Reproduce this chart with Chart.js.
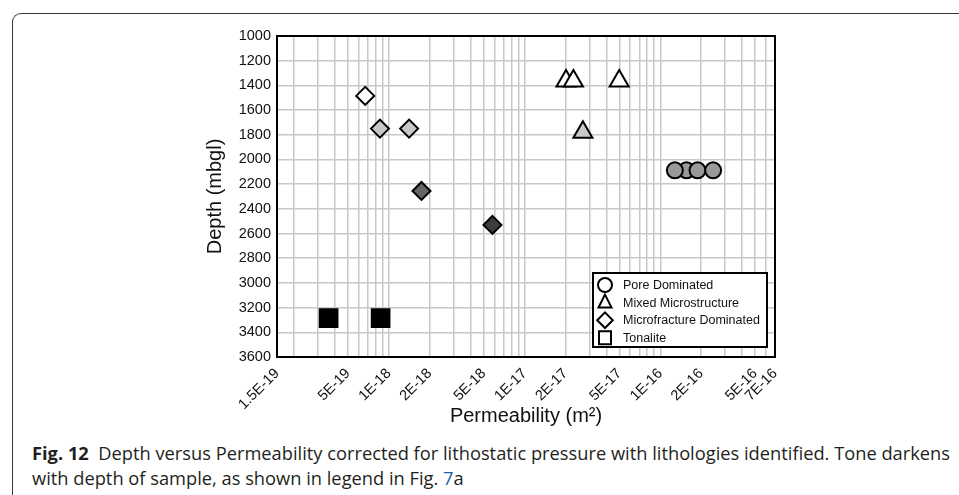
<!DOCTYPE html>
<html lang="en">
  <head>
    <meta charset="UTF-8" />
    <title>Depth versus Permeability</title>
    <script src="https://cdn.jsdelivr.net/npm/chart.js"></script>
    <style>
      body {
        margin: 0;
        padding: 0;
        background: #fff;
        width: 959px;
        height: 495px;
        overflow: hidden;
        position: relative;
      }

      .frame {
        position: absolute;
        left: 12px;
        top: 13px;
        width: 970px;
        height: 500px;
        border-left: 1.5px solid #3a3a3a;
        border-top: 1.5px solid #3a3a3a;
        border-top-left-radius: 9px;
      }

      .chart-box {
        position: absolute;
        left: 0;
        top: 0;
        width: 959px;
        height: 440px;
      }

      .caption {
        position: absolute;
        left: 32px;
        top: 441px;
        font-family: "Open Sans", sans-serif;
        font-size: 17.5px;
        line-height: 25px;
        color: #231f20;
        white-space: nowrap;
        transform-origin: 0 0;
      }

      .caption .ref {
        color: #1a5fb4;
      }
    </style>
  </head>
  <body>
    <div class="frame"></div>
    <div class="chart-box">
      <canvas id="perm-chart"></canvas>
    </div>
    <div class="caption" id="caption">
      <span id="caption-line1"><b>Fig. 12</b>&nbsp; Depth versus Permeability corrected for lithostatic pressure with lithologies identified. Tone darkens</span><br />
      with depth of sample, as shown in legend in Fig. <span class="ref">7</span>a
    </div>

    <script>
      // permeability (m2) and depth (mbgl)
      const poreK = [1.56e-16, 1.28e-16, 1.88e-16, 2.45e-16];
      const poreDepth = [2088, 2088, 2088, 2088];
      const poreFill = ["#999999", "#999999", "#999999", "#999999"];

      const mixedK = [2.02e-17, 2.29e-17, 4.98e-17, 2.69e-17];
      const mixedDepth = [1365, 1365, 1365, 1780];
      const mixedFill = ["#ffffff", "#ffffff", "#ffffff", "#c8c8c8"];

      const fractureK = [6.7e-19, 8.6e-19, 1.41e-18, 1.74e-18, 5.8e-18];
      const fractureDepth = [1485, 1750, 1750, 2255, 2530];
      const fractureFill = ["#ffffff", "#c8c8c8", "#c8c8c8", "#666666", "#3c3c3c"];

      const tonaliteK = [3.6e-19, 8.7e-19];
      const tonaliteDepth = [3285, 3285];

      const legendLabels = [
        "Pore Dominated",
        "Mixed Microstructure",
        "Microfracture Dominated",
        "Tonalite",
      ];

      const xTickLabels = [
        "1.5E-19", "5E-19", "1E-18", "2E-18", "5E-18", "1E-17",
        "2E-17", "5E-17", "1E-16", "2E-16", "5E-16", "7E-16",
      ];

      const xMin = 1.5e-19;
      const xMax = 7e-16;

      // minor grid at every 1..9 of each decade
      const gridValues = [xMin];
      for (let e = -19; e <= -16; e++) {
        for (let m = 1; m <= 9; m++) {
          const v = Number(m + "e" + e);
          if (v > xMin && v <= xMax) gridValues.push(v);
        }
      }

      function toPoints(xs, ys) {
        return xs.map((x, i) => ({ x: x, y: ys[i] }));
      }

      function drawMarker(ctx, style, x, y) {
        ctx.beginPath();
        if (style === "circle") {
          ctx.arc(x, y, 7, 0, Math.PI * 2);
        } else if (style === "triangle") {
          ctx.moveTo(x, y - 8);
          ctx.lineTo(x + 6.5, y + 5);
          ctx.lineTo(x - 6.5, y + 5);
          ctx.closePath();
        } else if (style === "rectRot") {
          ctx.moveTo(x, y - 7.8);
          ctx.lineTo(x + 7.8, y);
          ctx.lineTo(x, y + 7.8);
          ctx.lineTo(x - 7.8, y);
          ctx.closePath();
        } else {
          ctx.rect(x - 6, y - 6.5, 12, 13);
        }
        ctx.fill();
        ctx.stroke();
      }

      const legendStyles = ["circle", "triangle", "rectRot", "rect"];

      const boxAndLegend = {
        id: "boxAndLegend",
        afterDraw(chart) {
          const { ctx, chartArea: a } = chart;
          ctx.save();
          ctx.strokeStyle = "#000";
          ctx.lineWidth = 2;
          ctx.strokeRect(a.left, a.top, a.right - a.left, a.bottom - a.top);

          const w = 174;
          const h = 74;
          const x0 = a.right - 8 - w;
          const y0 = a.bottom - 10 - h;
          ctx.fillStyle = "#fff";
          ctx.fillRect(x0, y0, w, h);
          ctx.strokeRect(x0, y0, w, h);

          ctx.font = "12.5px 'Liberation Sans', Arial, sans-serif";
          ctx.textBaseline = "middle";
          legendLabels.forEach((label, i) => {
            const y = y0 + 12 + i * 17.6;
            ctx.fillStyle = "#fff";
            ctx.strokeStyle = "#000";
            ctx.lineWidth = 2;
            drawMarker(ctx, legendStyles[i], x0 + 12, y);
            ctx.fillStyle = "#111";
            ctx.fillText(label, x0 + 30, y + 0.5);
          });
          ctx.restore();
        },
      };

      Chart.defaults.font.family = "'Liberation Sans', Arial, sans-serif";
      Chart.defaults.color = "#111";

      new Chart(document.getElementById("perm-chart"), {
        type: "scatter",
        data: {
          datasets: [
            {
              label: legendLabels[0],
              data: toPoints(poreK, poreDepth),
              pointStyle: "circle",
              pointRadius: 8,
              pointBackgroundColor: poreFill,
            },
            {
              label: legendLabels[1],
              data: toPoints(mixedK, mixedDepth),
              pointStyle: "triangle",
              pointRadius: 11,
              pointBackgroundColor: mixedFill,
            },
            {
              label: legendLabels[2],
              data: toPoints(fractureK, fractureDepth),
              pointStyle: "rectRot",
              pointRadius: 9,
              pointBackgroundColor: fractureFill,
            },
            {
              label: legendLabels[3],
              data: toPoints(tonaliteK, tonaliteDepth),
              pointStyle: "rect",
              pointRadius: 12.5,
              pointBackgroundColor: "#000",
            },
          ],
        },
        options: {
          responsive: true,
          maintainAspectRatio: false,
          animation: false,
          events: [],
          elements: {
            point: {
              borderColor: "#000",
              borderWidth: 2,
            },
          },
          layout: {
            padding: { left: 203, right: 184, top: 36, bottom: 12 },
          },
          plugins: {
            legend: { display: false },
            tooltip: { enabled: false },
          },
          scales: {
            x: {
              type: "logarithmic",
              min: xMin,
              max: xMax,
              afterBuildTicks(scale) {
                scale.ticks = gridValues.map((v) => ({ value: v }));
              },
              afterFit(scale) {
                scale.height = 71;
              },
              ticks: {
                autoSkip: false,
                minRotation: 45,
                maxRotation: 45,
                padding: 8,
                font: { size: 14.5 },
                callback(value) {
                  const hit = xTickLabels.find(
                    (l) => Math.abs(Number(l) / value - 1) < 1e-9
                  );
                  return hit || "";
                },
              },
              grid: {
                color: "#c8c8c8",
                lineWidth: 1.5,
                drawTicks: false,
              },
              border: { color: "#000", width: 2 },
              title: {
                display: true,
                text: "Permeability (m²)",
                font: { size: 20 },
                padding: { top: 0, bottom: 0 },
              },
            },
            y: {
              reverse: true,
              min: 1000,
              max: 3600,
              afterFit(scale) {
                scale.width = 74;
              },
              ticks: {
                stepSize: 200,
                padding: 6,
                font: { size: 14.5 },
                callback: (v) => String(v),
              },
              grid: {
                color: "#c8c8c8",
                lineWidth: 1.5,
                drawTicks: false,
              },
              border: { color: "#000", width: 2 },
              title: {
                display: true,
                text: "Depth (mbgl)",
                font: { size: 20 },
                padding: { top: 0, bottom: 0 },
              },
            },
          },
        },
        plugins: [boxAndLegend],
      });

      // squeeze the caption to the width of the original typesetting
      const caption = document.getElementById("caption");
      const line1 = document.getElementById("caption-line1");
      const k = 918 / line1.getBoundingClientRect().width;
      caption.style.transform = "scaleX(" + k + ")";
    </script>
  </body>
</html>
